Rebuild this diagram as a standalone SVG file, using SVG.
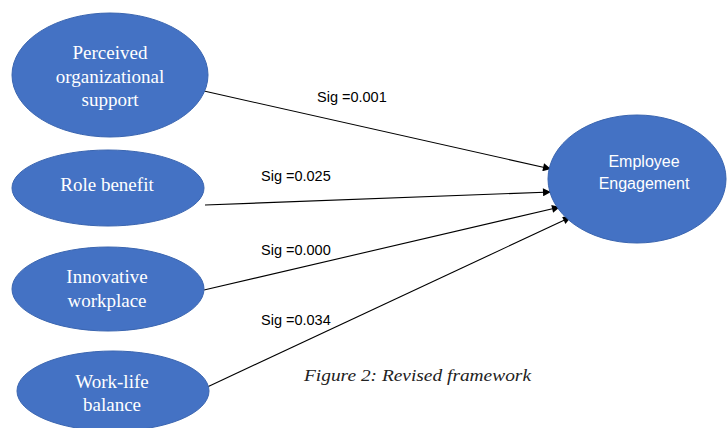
<svg xmlns="http://www.w3.org/2000/svg" width="728" height="428" viewBox="0 0 728 428">
<style>
.node{fill:#4472C4;stroke:#3a65b0;stroke-width:1}
.nt{font-family:"Liberation Serif","Times New Roman",serif;font-size:19px;fill:#ffffff;text-anchor:middle}
.et{font-family:"Liberation Sans",Arial,sans-serif;font-size:16px;fill:#ffffff;text-anchor:middle}
.lbl{font-family:"Liberation Sans",Arial,sans-serif;font-size:14.5px;fill:#000000}
.cap{font-family:"Liberation Serif","Times New Roman",serif;font-size:17px;font-style:italic;fill:#222222}
.edge{stroke:#000000;stroke-width:1.1;fill:none;marker-end:url(#arr)}
</style>
<defs>
<marker id="arr" viewBox="0 0 10 10" refX="10" refY="5" markerWidth="10" markerHeight="8" markerUnits="userSpaceOnUse" orient="auto">
<path d="M0,0 L10,5 L0,10 z" fill="#000000"/>
</marker>
</defs>
<rect width="728" height="428" fill="#ffffff"/>
<g id="connectors">
<line class="edge" x1="204" y1="91" x2="551" y2="169"/>
<line class="edge" x1="205" y1="205" x2="551" y2="192"/>
<line class="edge" x1="204" y1="290" x2="560" y2="207"/>
<line class="edge" x1="203" y1="389" x2="571" y2="217"/>
<text class="lbl" x="317" y="102">Sig =0.001</text>
<text class="lbl" x="261" y="181">Sig =0.025</text>
<text class="lbl" x="261" y="255">Sig =0.000</text>
<text class="lbl" x="261" y="325">Sig =0.034</text>
</g>
<g id="perceived">
<ellipse class="node" cx="110" cy="75" rx="98" ry="62"/>
<text class="nt" x="110" y="59">Perceived</text>
<text class="nt" x="110" y="83">organizational</text>
<text class="nt" x="110" y="106">support</text>
</g>
<g id="role">
<ellipse class="node" cx="108" cy="188" rx="96" ry="38"/>
<text class="nt" x="107" y="191">Role benefit</text>
</g>
<g id="innovative">
<ellipse class="node" cx="108" cy="289" rx="96" ry="42"/>
<text class="nt" x="107" y="283">Innovative</text>
<text class="nt" x="107" y="307">workplace</text>
</g>
<g id="worklife">
<ellipse class="node" cx="113" cy="391" rx="96" ry="40"/>
<text class="nt" x="112" y="388">Work-life</text>
<text class="nt" x="112" y="411">balance</text>
</g>
<g id="engagement">
<ellipse class="node" cx="637" cy="179" rx="89" ry="64"/>
<text class="et" x="644" y="167">Employee</text>
<text class="et" x="644" y="189">Engagement</text>
</g>
<text class="cap" x="304" y="381" textLength="227" lengthAdjust="spacingAndGlyphs">Figure 2: Revised framework</text>
</svg>
